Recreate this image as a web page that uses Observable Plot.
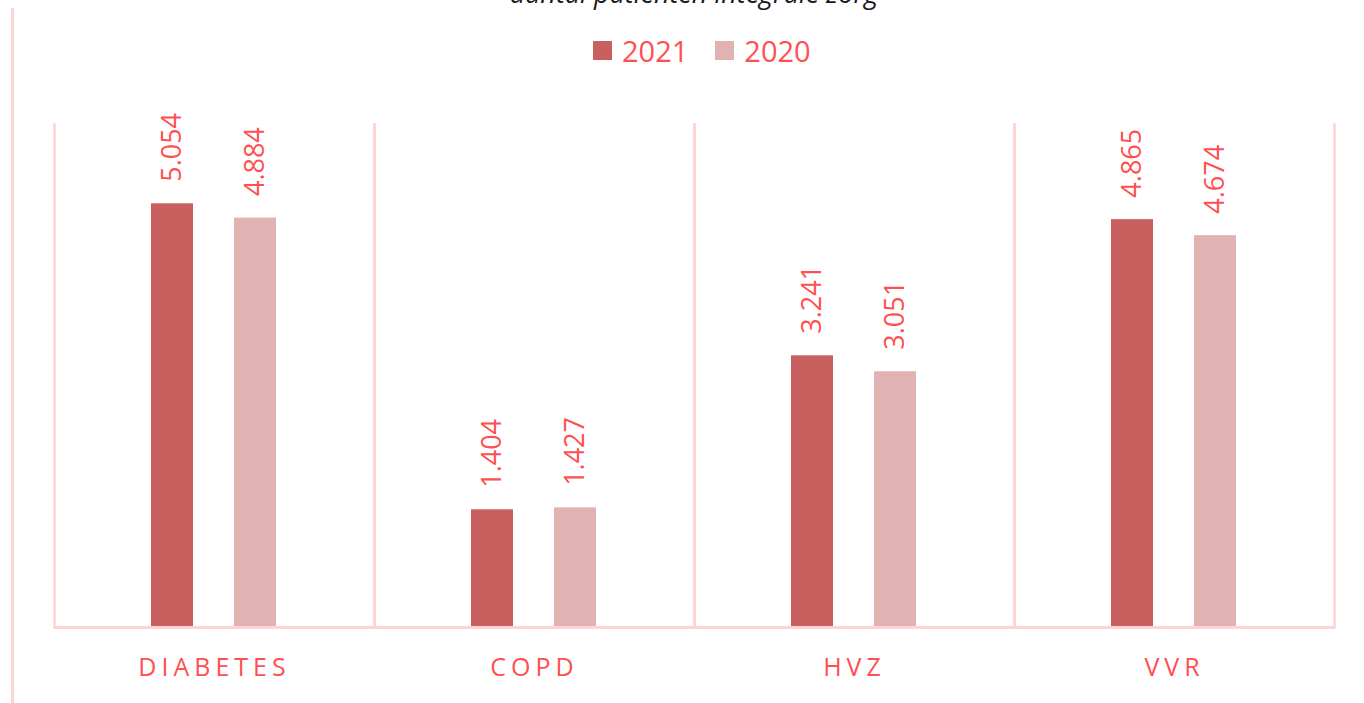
<!DOCTYPE html>
<html>
<head>
<meta charset="utf-8">
<script src="https://cdn.jsdelivr.net/npm/d3@7"></script>
<script src="https://cdn.jsdelivr.net/npm/@observablehq/plot@0.6"></script>
<style>
  html, body { margin: 0; padding: 0; background: #fff; overflow: hidden; }
  body { position: relative; width: 1364px; height: 703px; font-family: "Open Sans", sans-serif; }
  #border { position: absolute; left: 11px; top: 8px; width: 3px; height: 695px; background: #ffd3d3; }
  #title { position: absolute; left: 0; width: 1388px; top: -22px; text-align: center; font-style: italic;
           font-size: 27px; line-height: 30px; color: #1a1a1a; white-space: nowrap; }
  #legend { position: relative; height: 90px; }
  #legend .items { position: absolute; left: 593px; top: 36px; display: flex; align-items: center; }
  #legend .item { display: flex; align-items: center; margin-right: 27px; }
  #legend .sw { width: 19px; height: 19px; margin-right: 10px; }
  #legend .lbl { font-size: 29px; line-height: 29px; color: #ff4f4f; }
</style>
</head>
<body>
<div id="border"></div>
<div id="title">aantal patiënten integrale zorg</div>
<div id="legend"><div class="items"></div></div>
<div id="chart"></div>
<script>
const categories = ["DIABETES", "COPD", "HVZ", "VVR"];
const years = ["2021", "2020"];
const values2021 = [5054, 1404, 3241, 4865];
const values2020 = [4884, 1427, 3051, 4674];
const colors = ["#c8605f", "#e0b2b2"];

const data = [];
categories.forEach((c, i) => {
  data.push({category: c, year: "2021", value: values2021[i]});
  data.push({category: c, year: "2020", value: values2020[i]});
});

const nl = d3.formatLocale({decimal: ",", thousands: ".", grouping: [3], currency: ["€", ""]});
const fmt = nl.format(",d");

const textColor = "#ff4f4f";
const gridColor = "#ffd3d3";

// legend
const items = document.querySelector("#legend .items");
years.forEach((y, i) => {
  const it = document.createElement("div");
  it.className = "item";
  it.innerHTML = `<div class="sw" style="background:${colors[i]}"></div><div class="lbl">${y}</div>`;
  items.appendChild(it);
});

const chart = Plot.plot({
  width: 1364,
  height: 613,
  marginTop: 34,
  marginBottom: 76,
  marginLeft: 53,
  marginRight: 29,
  style: {fontFamily: "Open Sans", background: "transparent", overflow: "visible"},
  fx: {domain: categories, padding: 0, axis: null, label: null},
  x: {domain: years, paddingInner: 0.488, paddingOuter: 1.152, axis: null},
  y: {domain: [0, 6000], axis: null},
  color: {domain: years, range: colors},
  marks: [
    Plot.frame({anchor: "left", stroke: gridColor, strokeWidth: 2.5}),
    Plot.frame({anchor: "right", stroke: gridColor, strokeWidth: 2.5}),
    Plot.barY(data, {fx: "category", x: "year", y: "value", fill: "year"}),
    Plot.ruleY([0], {stroke: gridColor, strokeWidth: 3}),
    Plot.text(data, {
      fx: "category", x: "year", y: "value", text: d => fmt(d.value),
      rotate: -90, textAnchor: "start", dy: -22, fill: textColor, fontSize: 27
    }),
    Plot.text(categories, {
      fx: d => d, text: d => d, frameAnchor: "bottom", dy: 48, lineAnchor: "bottom",
      fill: textColor, fontSize: 25
    })
  ]
});
d3.select(chart).selectAll("text")
  .filter(function() { return categories.includes(this.textContent); })
  .attr("letter-spacing", "5px")
  .style("letter-spacing", "5px");
document.getElementById("chart").appendChild(chart);
</script>
</body>
</html>
